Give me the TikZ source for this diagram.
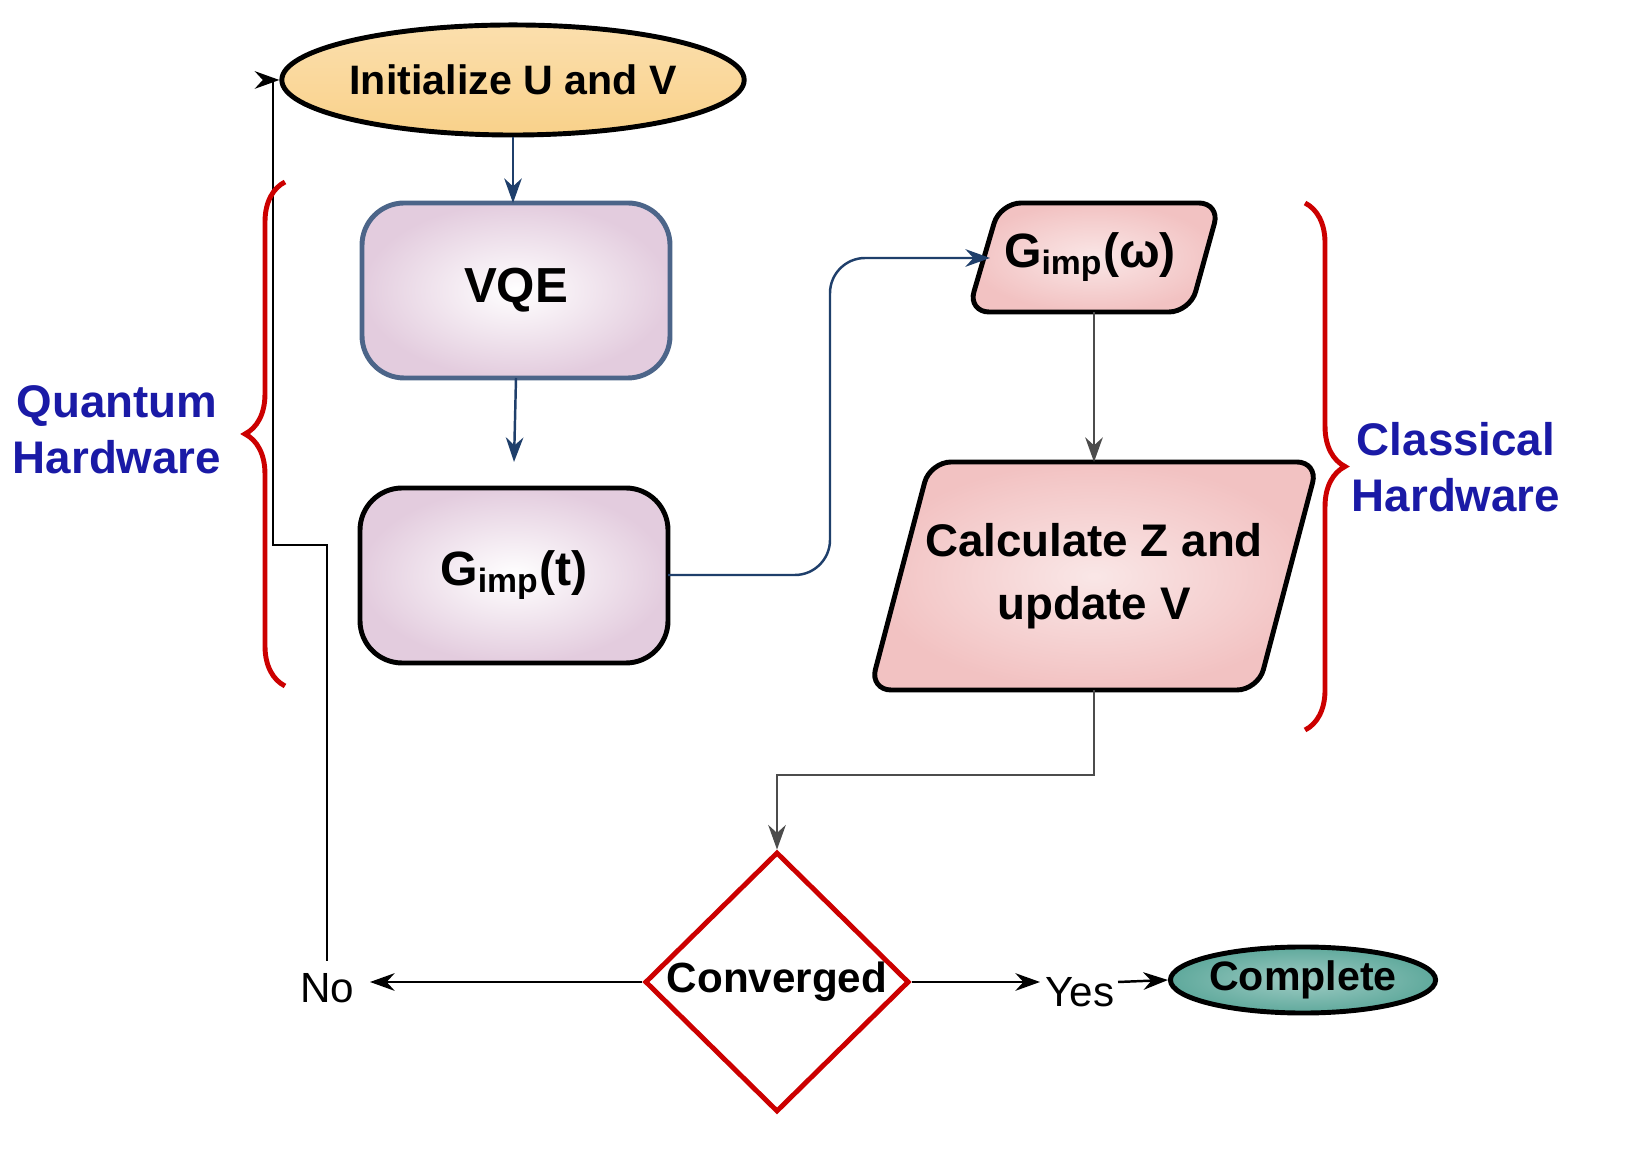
\documentclass[tikz,border=0pt]{standalone}
\usepackage{fontspec}
\setmainfont{Liberation Sans}
\usetikzlibrary{shapes.geometric, decorations.pathreplacing, arrows.meta}
\definecolor{initfill}{HTML}{F9D18A}
\definecolor{boxfill}{HTML}{E3CCDE}
\definecolor{parafill}{HTML}{F2C2C2}
\definecolor{donefill}{HTML}{5FA99C}
\definecolor{hwblue}{HTML}{1A1AA6}
\definecolor{linkblue}{HTML}{1F3F6B}
\tikzset{
  flow/.style={-{Stealth[length=7pt,width=5pt]}, line width=0.7pt},
  box/.style={rounded corners=12pt, line width=1.4pt, inner color=white, outer color=boxfill},
  para/.style={rounded corners=6pt, line width=1.4pt, inner color=parafill!40, outer color=parafill},
  lbl/.style={font=\fontsize{11.7}{14}\selectfont\bfseries, align=center},
  hw/.style={font=\fontsize{13}{16}\selectfont\bfseries, text=hwblue, align=center},
  brace/.style={decorate, decoration={brace, amplitude=0.4cm}, red!80!black, line width=1.4pt}
}
\begin{document}
\begin{tikzpicture}[x=0.01cm, y=-0.01cm]
  \useasboundingbox (0,0) rectangle (1637,1168);

  % start and end
  \node[ellipse, draw, line width=1.4pt, minimum width=3.95cm, minimum height=1.1cm, inner sep=0pt,
        top color=initfill!70, bottom color=initfill, lbl] (init) at (513,80) {Initialize U and V};
  \node[ellipse, draw, line width=1.4pt, minimum width=2.65cm, minimum height=0.66cm, inner sep=0pt,
        inner color=donefill!60, outer color=donefill, lbl] (done) at (1303,980) {Complete};

  % quantum part
  \draw[box, draw=linkblue!80] (362,203) rectangle (670,378);
  \node[font=\fontsize{14}{17}\selectfont\bfseries] (vqe) at (516,290) {VQE};
  \draw[box] (360,488) rectangle (668,663);
  \node[font=\fontsize{13.7}{16}\selectfont\bfseries] (gt) at (514,575) {G\textsubscript{imp}(t)};
  \coordinate (vqeN) at (513,203);
  \coordinate (vqeS) at (516,378);
  \coordinate (gtN) at (514,462);
  \coordinate (gtE) at (668,575);

  % classical part
  \draw[para] (1000,203) -- (1220,203) -- (1190,312) -- (968,312) -- cycle;
  \node[font=\fontsize{13.7}{16}\selectfont\bfseries] (gw) at (1090,257) {G\textsubscript{imp}(ω)};
  \draw[para] (930,462) -- (1318,462) -- (1258,690) -- (870,690) -- cycle;
  \node[font=\fontsize{13}{18}\selectfont\bfseries, align=center] (calc) at (1094,576) {Calculate Z and\\update V};
  \coordinate (gwW) at (990,258);
  \coordinate (gwS) at (1094,312);
  \coordinate (calcN) at (1094,462);
  \coordinate (calcS) at (1094,690);

  % decision
  \node[diamond, draw=red!80!black, line width=1.4pt, fill=white, minimum width=2.64cm,
        minimum height=2.4cm, inner sep=0pt, font=\fontsize{12}{14}\selectfont\bfseries] (conv) at (777,982) {Converged};
  \node[font=\fontsize{12}{14}\selectfont] (no) at (327,988) {No};
  \node[font=\fontsize{12}{14}\selectfont] (yes) at (1080,992) {Yes};

  % connectors
  \draw[flow, linkblue] (init.south) -- (vqeN);
  \draw[flow, linkblue] (vqeS) -- (gtN);
  \draw[flow, linkblue, rounded corners=10pt] (gtE) -- (830,575) -- (830,258) -- (gwW);
  \draw[flow, black!70] (gwS) -- (calcN);
  \draw[flow, black!70] (calcS) -- (1094,775) -- (777,775) -- (conv.north);
  \draw[flow] (conv.west) -- (370,982);
  \draw[flow] (conv.east) -- (1040,982);
  \draw[flow] (1118,982) -- (done.west);
  \draw[flow] (no.north) -- (327,545) -- (273,545) -- (273,80) -- (init.west);

  % hardware braces
  \draw[brace] (285,686) -- (285,182);
  \node[hw] (qhw) at (117,430) {Quantum\\Hardware};
  \draw[brace] (1305,203) -- (1305,730);
  \node[hw] (chw) at (1456,467) {Classical\\Hardware};
\end{tikzpicture}
\end{document}
